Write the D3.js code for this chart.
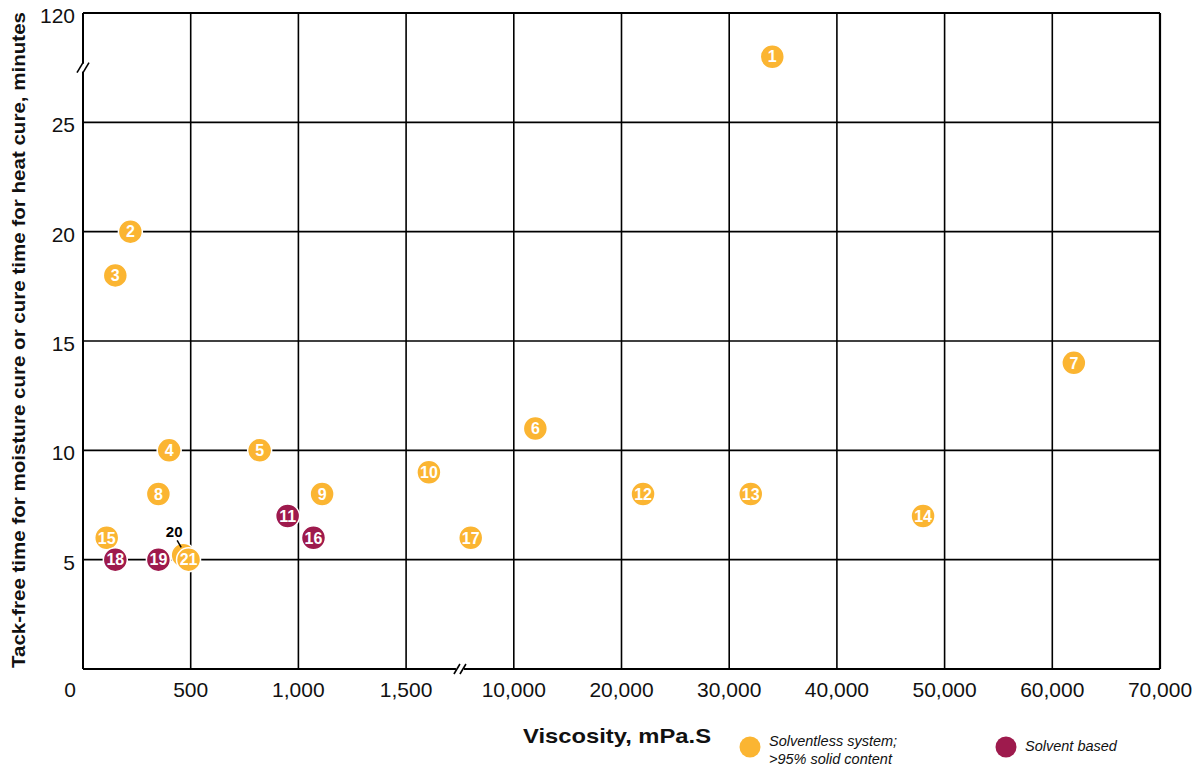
<!DOCTYPE html>
<html>
<head>
<meta charset="utf-8">
<script src="https://cdn.jsdelivr.net/npm/d3@7"></script>
<style>
  body { margin: 0; background: #fff; }
  text { font-family: "Liberation Sans", Arial, sans-serif; }
</style>
</head>
<body>
<div id="chart-area"></div>
<script>
// point ids, viscosity (mPa.S), time (minutes), system type
const ids =   [1, 2, 3, 4, 5, 6, 7, 8, 9, 10, 11, 12, 13, 14, 15, 16, 17, 18, 19, 20, 21];
const visc =  [34000, 220, 150, 400, 820, 12000, 62000, 350, 1110, 3300, 950, 22000, 32000, 48000, 110, 1070, 6600, 150, 350, 465, 490];
const times = [82, 20, 18, 10, 10, 11, 14, 8, 8, 9, 7, 8, 8, 7, 6, 6, 6, 5, 5, 5.2, 5];
const types = ["sl", "sl", "sl", "sl", "sl", "sl", "sl", "sl", "sl", "sl", "sb", "sl", "sl", "sl", "sl", "sb", "sl", "sb", "sb", "sl", "sl"];

const xTicks = [0, 500, 1000, 1500, 10000, 20000, 30000, 40000, 50000, 60000, 70000];
const yTicks = [5, 10, 15, 20, 25, 120];

const margin = {top: 13, left: 83};
const width = 1077, height = 656;
const cellW = width / 10, cellH = height / 6;

const colors = {sl: "#fbb532", sb: "#9e1a4d"};

const svg = d3.select("#chart-area")
    .append("svg")
        .attr("width", 1192)
        .attr("height", 767);

const g = svg.append("g")
    .attr("transform", "translate(" + margin.left + "," + margin.top + ")");

// broken scales: 0-1500 in 500 steps, then one cell up to 10,000, then 10,000 steps
const x = d3.scaleLinear()
    .domain([0, 1500, 10000, 70000])
    .range([0, 3 * cellW, 4 * cellW, 10 * cellW]);

const y = d3.scaleLinear()
    .domain([0, 25, 120])
    .range([height, cellH, 0]);

// grid
g.selectAll(".vgrid")
    .data(xTicks.slice(1))
    .enter().append("line")
        .attr("x1", d => x(d)).attr("x2", d => x(d))
        .attr("y1", 0).attr("y2", height)
        .attr("stroke", "#000").attr("stroke-width", 1.6);

g.selectAll(".hgrid")
    .data(yTicks)
    .enter().append("line")
        .attr("x1", 0).attr("x2", width)
        .attr("y1", d => y(d)).attr("y2", d => y(d))
        .attr("stroke", "#000").attr("stroke-width", 1.6);

// axes lines
g.append("line").attr("x1", 0).attr("x2", 0).attr("y1", 0).attr("y2", height)
    .attr("stroke", "#000").attr("stroke-width", 2);
g.append("line").attr("x1", 0).attr("x2", width).attr("y1", height).attr("y2", height)
    .attr("stroke", "#000").attr("stroke-width", 2);
g.append("line").attr("x1", 0).attr("x2", width).attr("y1", 0).attr("y2", 0)
    .attr("stroke", "#000").attr("stroke-width", 2.2);
g.append("line").attr("x1", width).attr("x2", width).attr("y1", 0).attr("y2", height)
    .attr("stroke", "#000").attr("stroke-width", 2.2);

// axis break marks
function breakMark(cx, cy) {
    const bg = g.append("g").attr("transform", "translate(" + cx + "," + cy + ")");
    bg.append("rect").attr("x", -4).attr("y", -4).attr("width", 8).attr("height", 8).attr("fill", "#fff");
    [-3, 3].forEach(function(o) {
        bg.append("line")
            .attr("x1", o - 3).attr("y1", 5)
            .attr("x2", o + 3).attr("y2", -5)
            .attr("stroke", "#000").attr("stroke-width", 1.6);
    });
}
breakMark(x(1500) + cellW / 2, height);
breakMark(0, cellH / 2);

// tick labels
svg.selectAll(".xtick")
    .data(xTicks)
    .enter().append("text")
        .attr("x", d => d === 0 ? margin.left - 13 : margin.left + x(d))
        .attr("y", margin.top + height + 28)
        .attr("text-anchor", "middle")
        .attr("font-size", "21px")
        .attr("fill", "#111")
        .text(d => d3.format(",")(d));

svg.selectAll(".ytick")
    .data(yTicks)
    .enter().append("text")
        .attr("x", margin.left - 8)
        .attr("y", d => margin.top + y(d) + 10)
        .attr("text-anchor", "end")
        .attr("font-size", "21px")
        .attr("fill", "#111")
        .text(d => d);

// axis titles
svg.append("text")
    .attr("transform", "translate(25," + (margin.top + height / 2 - 1) + ") rotate(-90)")
    .attr("text-anchor", "middle")
    .attr("font-size", "19px")
    .attr("font-weight", "bold")
    .attr("textLength", 656)
    .attr("lengthAdjust", "spacingAndGlyphs")
    .attr("fill", "#111")
    .text("Tack-free time for moisture cure or cure time for heat cure, minutes");

svg.append("text")
    .attr("x", 617)
    .attr("y", 743)
    .attr("text-anchor", "middle")
    .attr("font-size", "21px")
    .attr("font-weight", "bold")
    .attr("textLength", 188)
    .attr("lengthAdjust", "spacingAndGlyphs")
    .attr("fill", "#111")
    .text("Viscosity, mPa.S");

// data points
const pts = ids.map((id, i) => ({id: id, v: visc[i], t: times[i], type: types[i]}));
// draw 20 before 21 so it sits behind
const order = pts.slice().sort((a, b) => (a.id === 20 ? -1 : b.id === 20 ? 1 : 0));

const dots = g.selectAll(".dot")
    .data(order)
    .enter().append("g")
        .attr("transform", d => "translate(" + x(d.v) + "," + y(d.t) + ")");

dots.append("circle")
    .attr("r", 12)
    .attr("fill", d => colors[d.type])
    .attr("stroke", "#fff")
    .attr("stroke-width", 1.5);

dots.filter(d => d.id !== 20).append("text")
    .attr("text-anchor", "middle")
    .attr("dy", "0.36em")
    .attr("font-size", "16px")
    .attr("font-weight", "bold")
    .attr("fill", "#fff")
    .text(d => d.id);

// label for hidden point 20
const p20 = pts.find(d => d.id === 20);
g.append("line")
    .attr("x1", x(p20.v) - 6).attr("y1", y(p20.t) - 15)
    .attr("x2", x(p20.v) - 2).attr("y2", y(p20.t) - 8)
    .attr("stroke", "#000").attr("stroke-width", 1.5);
g.append("text")
    .attr("x", x(p20.v) - 9)
    .attr("y", y(p20.t) - 18)
    .attr("text-anchor", "middle")
    .attr("font-size", "15px")
    .attr("font-weight", "bold")
    .attr("fill", "#000")
    .text("20");

// legend
const legend = [
    {type: "sl", lines: ["Solventless system;", ">95% solid content"], x: 750},
    {type: "sb", lines: ["Solvent based"], x: 1006}
];
legend.forEach(function(l) {
    svg.append("circle")
        .attr("cx", l.x).attr("cy", 747).attr("r", 10.5)
        .attr("fill", colors[l.type]);
    const t = svg.append("text")
        .attr("x", l.x + 19)
        .attr("y", l.lines.length > 1 ? 746 : 751)
        .attr("font-size", "14.5px")
        .attr("font-style", "italic")
        .attr("fill", "#111");
    l.lines.forEach(function(s, i) {
        t.append("tspan").attr("x", l.x + 19).attr("dy", i === 0 ? 0 : 18).text(s);
    });
});
</script>
</body>
</html>
